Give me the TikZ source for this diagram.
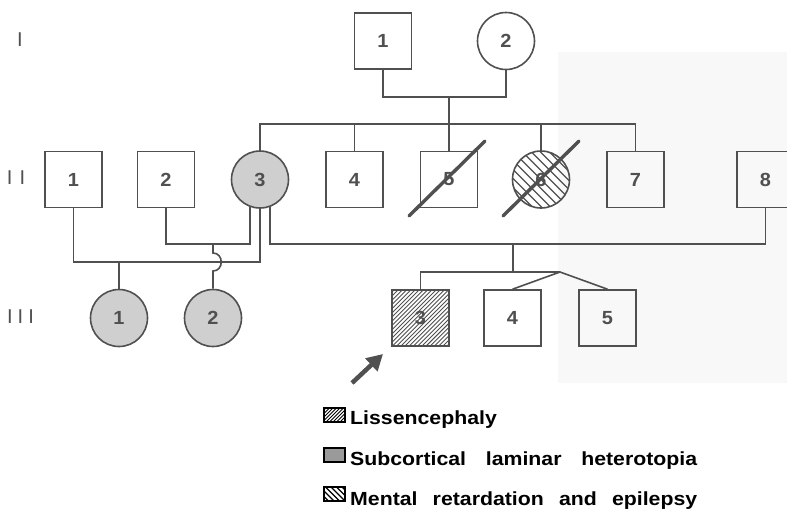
\documentclass[tikz,border=0pt]{standalone}
\usepackage{fontspec}
\setmainfont{Liberation Sans}
\newfontfamily\numfont{Liberation Sans}[FakeStretch=1.05]
\newfontfamily\lgdfont{Liberation Sans}[FakeStretch=1.12]
\usetikzlibrary{arrows.meta}
\definecolor{ln}{HTML}{505050}
\definecolor{aff}{HTML}{CFCFCF}
\definecolor{scan}{HTML}{F8F8F8}
\definecolor{lgdgray}{HTML}{9A9A9A}
\begin{document}
\begin{tikzpicture}[x=1pt,y=-1pt,
  lnk/.style={draw=ln,line width=1.6pt},
  numtxt/.style={font=\numfont\bfseries\fontsize{19}{19}\selectfont,text=ln},
  male/.style={rectangle,draw=ln,line width=1.6pt,minimum width=57pt,minimum height=56pt,inner sep=0pt,numtxt},
  fem/.style={circle,draw=ln,line width=1.6pt,minimum size=57pt,inner sep=0pt,numtxt},
  hatchA/.style={draw=ln,line width=0.9pt},
  hatchB/.style={draw=ln,line width=1.1pt},
  dead/.style={draw=ln,line width=3.4pt,line cap=round},
  gen/.style={font=\fontsize{20}{20}\selectfont,text=ln,inner sep=0pt},
  lgdbox/.style={draw=black,line width=1.3pt},
  lgdtxt/.style={font=\lgdfont\bfseries\fontsize{19}{19}\selectfont,anchor=base west,inner sep=0pt}
]
\clip (0,0) rectangle (787,523);
\fill[white] (0,0) rectangle (787,523);
\fill[scan] (558,52) rectangle (787,383);

% --- fills and hatching (drawn below the outlines)
\fill[aff] (260,179.5) circle (28.5pt);
\fill[aff] (119,318) circle (28.5pt);
\fill[aff] (213,318) circle (28.5pt);
\begin{scope}
  \clip (541,179.5) circle (28.5pt);
  \foreach \k in {-81,-72,...,81}
    \draw[hatchB] ({541+\k-40},139.5) -- ({541+\k+40},219.5);
\end{scope}
\begin{scope}
  \clip (392,290) rectangle (449,346);
  \foreach \k in {-84,-79.8,...,84}
    \draw[hatchA] ({420.5+\k-40},358) -- ({420.5+\k+40},278);
\end{scope}

% --- generation labels
\node[gen] (gI) at (20,40) {I};
\node[gen] (gII) at (16,178) {I\hspace{7pt}I};
\node[gen] (gIII) at (20.5,317) {I\hspace{5pt}I\hspace{5pt}I};

% --- generation I
\node[male] (I1) at (383,41) {1};
\node[fem] (I2) at (506,41) {2};

% --- generation II
\node[male] (II1) at (73.5,179.5) {1};
\node[male] (II2) at (166,179.5) {2};
\node[fem]  (II3) at (260,179.5) {3};
\node[male] (II4) at (354.5,179.5) {4};
\node[male] (II5) at (449,179.5) {5};
\node[fem]  (II6) at (541,179.5) {6};
\node[male] (II7) at (635.5,179.5) {7};
\node[male] (II8) at (765.5,179.5) {8};

% --- generation III
\node[fem]  (III1) at (119,318) {1};
\node[fem]  (III2) at (213,318) {2};
\node[male] (III3) at (420.5,318) {3};
\node[male] (III4) at (512.5,318) {4};
\node[male] (III5) at (607.5,318) {5};

% --- deceased slashes
\draw[dead] (409,216) -- (485,141);
\draw[dead] (503,216) -- (579,141);

% --- connectors
\coordinate (mI) at (449,96);
\coordinate (sI) at (449,124);
\draw[lnk] (I1.south) -- ++(0,27) -| (I2.south);
\draw[lnk] (mI) -- (II5.north);
\draw[lnk] (II3.north) |- (sI) -| (II7.north);
\draw[lnk] (II4.north) -- (II4.north |- sI);
\draw[lnk] (II6.north) -- (II6.north |- sI);

\coordinate (mA) at (119,262);
\draw[lnk] (II1.south) |- (mA) -| (II3.south);
\draw[lnk] (mA) -- (III1.north);

\coordinate (mB) at (213,244);
\coordinate (hopT) at (213,253);
\coordinate (hopB) at (213,271);
\draw[lnk] (II2.south) |- (mB) -| (II3.-110);
\draw[lnk] (mB) -- (hopT) .. controls (224,253) and (224,271) .. (hopB) -- (III2.north);

\coordinate (mC) at (513,244);
\coordinate (sC) at (513,272);
\coordinate (tw) at (560,272);
\draw[lnk] (II3.-70) |- (mC) -| (II8.south);
\draw[lnk] (mC) -- (sC);
\draw[lnk] (III3.north) |- (tw);
\draw[lnk] (III4.north) -- (tw) -- (III5.north);

% --- proband arrow
\coordinate (arrT) at (352,383);
\coordinate (arrH) at (383,354);
\draw[ln,line width=4.5pt,-{Triangle[length=16pt,width=17pt]}] (arrT) -- (arrH);

% --- legend
\begin{scope}
  \clip (324,408) rectangle (345,422);
  \foreach \k in {-30,-26.5,...,30}
    \draw[black,line width=1pt] ({335+\k-10},425) -- ({335+\k+10},405);
\end{scope}
\draw[lgdbox] (324,408) rectangle (345,422);
\fill[lgdgray] (324,448) rectangle (345,462);
\draw[lgdbox] (324,448) rectangle (345,462);
\begin{scope}
  \clip (324,487) rectangle (345,501);
  \foreach \k in {-30,-24.5,...,30}
    \draw[black,line width=1.4pt] ({335+\k-10},484) -- ({335+\k+10},504);
\end{scope}
\draw[lgdbox] (324,487) rectangle (345,501);

\node[lgdtxt] (t1) at (350,424) {Lissencephaly};
\node[lgdtxt] (t2) at (350,465) {\makebox[347pt][s]{Subcortical laminar heterotopia}};
\node[lgdtxt] (t3) at (350,505) {\makebox[347pt][s]{Mental retardation and epilepsy}};
\end{tikzpicture}
\end{document}
